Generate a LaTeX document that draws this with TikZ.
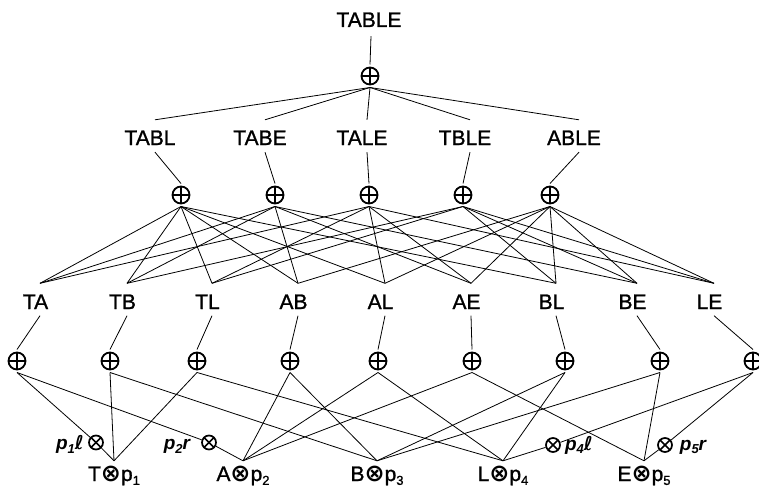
\documentclass[tikz,border=0pt]{standalone}
\usepackage{fontspec}
\setmainfont{Liberation Sans}
\newfontfamily\heavy{Liberation Sans}[FakeBold=1.2]
\newfontfamily\symfont{DejaVu Sans}
\newcommand\lsub[1]{\raisebox{-0.35ex}{\fontsize{13}{13}\selectfont #1}}
\newcommand\otm{{\symfont\bfseries\fontsize{24}{24}\selectfont ⊗}}
\newcommand\ltxt[2]{#1\kern#2pt}
\begin{document}
\begin{tikzpicture}[x=1pt,y=-1pt,
  edge/.style={line width=0.8pt},
  lab/.style={inner sep=0pt, text height=25pt, text depth=7pt, anchor=base,
    font=\heavy\fontsize{21}{24}\selectfont},
  blab/.style={inner sep=0pt, text height=20pt, text depth=5pt, anchor=base,
    font=\heavy\fontsize{21}{24}\selectfont},
  plab/.style={inner sep=0pt, anchor=base, font=\fontsize{19}{22}\selectfont\bfseries\itshape},
  oplus/.style={circle, minimum size=17pt, inner sep=0pt, outer sep=3pt, draw, line width=1.8pt,
    path picture={
      \draw[line width=2.6pt] (path picture bounding box.north) -- (path picture bounding box.south);
      \draw[line width=1.4pt] (path picture bounding box.west) -- (path picture bounding box.east);}},
  otimesn/.style={circle, minimum size=14pt, inner sep=0pt, draw, line width=1.7pt,
    path picture={
      \draw[line width=1.5pt] (path picture bounding box.north east) -- (path picture bounding box.south west);
      \draw[line width=1.5pt] (path picture bounding box.north west) -- (path picture bounding box.south east);}}
]
\useasboundingbox (0,0) rectangle (759,492);

% level 1
\node[lab, text depth=9pt] (TABLE) at (371,27) {\ltxt{TABLE}{4}};
\node[oplus] (q0) at (370,76) {};

% level 2
\node[lab] (TABL) at (155,145) {\ltxt{TABL}{10}};
\node[lab] (TABE) at (265,145) {\ltxt{TABE}{10}};
\node[lab] (TALE) at (367,145) {\ltxt{TALE}{10}};
\node[lab] (TBLE) at (470,145) {\ltxt{TBLE}{10}};
\node[lab] (ABLE) at (579,145) {\ltxt{ABLE}{10}};
\node[oplus] (qTABL) at (181,195) {};
\node[oplus] (qTABE) at (275,195) {};
\node[oplus] (qTALE) at (369,195) {};
\node[oplus] (qTBLE) at (463,195) {};
\node[oplus] (qABLE) at (550,195) {};

% level 3
\foreach \n/\x in {TA/40,TB/127,TL/212,AB/298,AL/385,AE/471,BL/556,BE/637,LE/714}
  \node[lab, text height=25.5pt, text depth=6.5pt] (\n) at (\x,309) {\ltxt{\n}{9}};
\foreach \n/\x in {TA/17,TB/110,TL/197,AB/290,AL/378,AE/472,BL/565,BE/660,LE/753}
  \node[oplus] (q\n) at (\x,361) {};

% bottom
\node[blab] (T1) at (114,481) {T\otm p\lsub{1}};
\node[blab] (A2) at (243,481) {A\otm p\lsub{2}};
\node[blab] (B3) at (377,481) {B\otm p\lsub{3}};
\node[blab] (L4) at (503,481) {L\otm p\lsub{4}};
\node[blab] (E5) at (644,481) {E\otm p\lsub{5}};

\node[otimesn] (x1) at (96,442.5) {};
\node[otimesn] (x2) at (209,442.5) {};
\node[otimesn] (x4) at (553,445) {};
\node[otimesn] (x5) at (665,445) {};
\node[plab] (l1) at (70,449.5) {p\lsub{1}{\symfont\bfseries\itshape ℓ}};
\node[plab] (l2) at (177,449.5) {p\lsub{2}r};
\node[plab] (l4) at (579,450) {p\lsub{4}{\symfont\bfseries\itshape ℓ}};
\node[plab] (l5) at (693,450) {p\lsub{5}r};

% edges top
\draw[edge] (TABLE.south) -- (q0.north);
\foreach \n in {TABL,TABE,TALE,TBLE,ABLE} {
  \draw[edge] (q0.south) -- (\n.north);
  \draw[edge] (\n.south) -- (q\n.north);
}
% level 2 plus -> level 3
\foreach \a/\b in {TABL/TA,TABL/TB,TABL/TL,TABL/AB,TABL/AL,TABL/BL,
                   TABE/TA,TABE/TB,TABE/AB,TABE/AE,TABE/BE,
                   TALE/TA,TALE/TL,TALE/AL,TALE/AE,TALE/LE,
                   TBLE/TB,TBLE/TL,TBLE/BL,TBLE/BE,TBLE/LE,
                   ABLE/AB,ABLE/AL,ABLE/AE,ABLE/BL,ABLE/BE,ABLE/LE}
  \draw[edge] (q\a.south) -- (\b.north);
% level 3 -> plus
\foreach \n in {TA,TB,TL,AB,AL,AE,BL,BE,LE}
  \draw[edge] (\n.south) -- (q\n.north);
% plus -> bottom
\foreach \a/\b in {TB/T1,TL/T1,AB/A2,AL/A2,AE/A2,TB/B3,AB/B3,BL/B3,BE/B3,
                   TL/L4,AL/L4,BL/L4,AE/E5,BE/E5}
  \draw[edge] (q\a.south) -- (\b.north);
\draw[edge] (qTA.south) -- (x1) -- (T1.north);
\draw[edge] (qTA.south) -- (x2) -- (A2.north);
\draw[edge] (qLE.south) -- (x4) -- (L4.north);
\draw[edge] (qLE.south) -- (x5) -- (E5.north);
\end{tikzpicture}
\end{document}
